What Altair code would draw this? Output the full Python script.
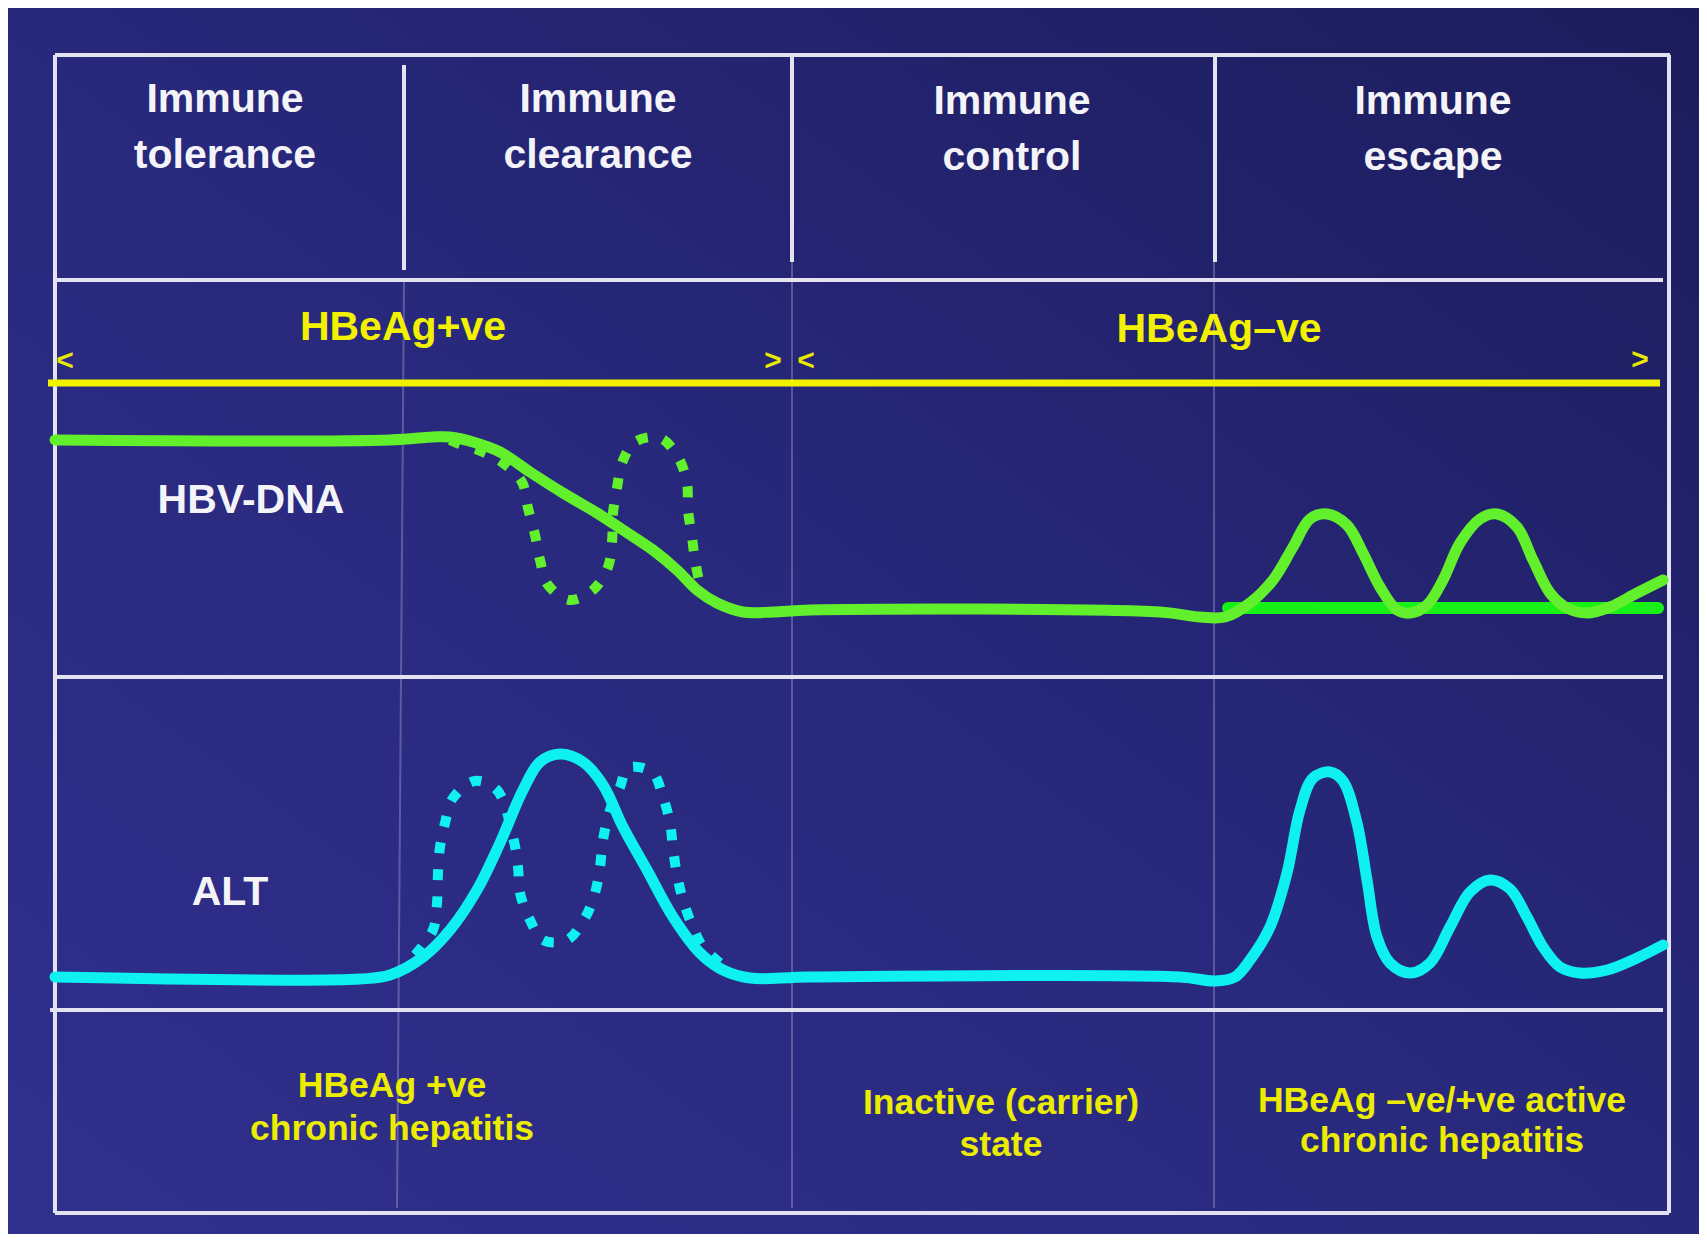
import altair as alt
import pandas as pd

# ---------------- data (image pixel units) ----------------
# HBV-DNA, solid curve
dna_x = [55, 390, 433, 450, 473, 500, 530, 563, 597, 623, 653, 677, 697, 717, 743, 773, 810,
         1160, 1200, 1225, 1250, 1273, 1293, 1310, 1327, 1347, 1363, 1380, 1397, 1410, 1427,
         1443, 1460, 1480, 1497, 1517, 1533, 1550, 1567, 1587, 1610, 1637, 1663]
dna_y = [440, 440, 437, 437, 442, 452, 472, 493, 513, 530, 550, 570, 590, 603, 612, 612, 610,
         612, 617, 617, 603, 580, 547, 519, 514, 525, 553, 587, 610, 613, 605,
         580, 543, 519, 514, 527, 560, 593, 608, 613, 607, 593, 580]

# HBV-DNA, dotted (fluctuating) curve
dnad_x = [450, 457, 483, 503, 522, 528, 535, 540, 548, 570, 593, 608, 612, 613, 617, 622, 635,
          660, 678, 687, 688, 692, 695, 700, 705]
dnad_y = [440, 443, 452, 463, 482, 508, 535, 560, 585, 600, 590, 567, 542, 513, 488, 463, 442,
          438, 457, 483, 510, 537, 560, 583, 592]

# HBV-DNA, flat low line in the escape phase
flat_x = [1228, 1658]
flat_y = [608, 608]

# ALT, solid curve
alt_x = [55, 360, 390, 423, 450, 477, 500, 523, 540, 560, 583, 603, 623, 647, 673, 700, 723, 750,
         810, 1180, 1215, 1235, 1250, 1270, 1287, 1300, 1313, 1330, 1343, 1357, 1367, 1377,
         1390, 1410, 1430, 1450, 1470, 1490, 1510, 1527, 1543, 1560, 1580, 1607, 1637, 1663]
alt_y = [977, 979, 975, 957, 930, 890, 843, 790, 762, 754, 762, 785, 827, 870, 917, 953, 970, 978,
         977, 977, 981, 977, 960, 927, 873, 810, 778, 772, 781, 823, 880, 937,
         963, 973, 963, 927, 892, 880, 889, 917, 947, 967, 973, 970, 958, 945]

# ALT, dotted (fluctuating) curve
altd_x = [415, 433, 437, 438, 440, 445, 453, 475, 497, 513, 518, 520, 530, 543, 567, 585, 595,
          600, 603, 610, 620, 628, 652, 663, 670, 673, 677, 683, 692, 703, 720]
altd_y = [955, 930, 903, 873, 847, 823, 798, 781, 790, 837, 867, 893, 920, 940, 940, 918, 893,
          867, 840, 810, 787, 768, 772, 797, 823, 848, 875, 900, 925, 947, 963]

# diagram frame and dividers: (x, y, x2, y2)
frame_segs = [
    (55, 55, 1670, 55), (55, 55, 55, 1213), (1669, 55, 1669, 1213), (55, 1213, 1669, 1213),
    (55, 280, 1663, 280), (55, 677, 1663, 677), (50, 1010, 1663, 1010),
    (404, 65, 404, 270), (792, 55, 792, 262), (1215, 55, 1215, 262),
]
faint_segs = [(404, 280, 397, 1208), (792, 262, 792, 1208), (1214, 262, 1214, 1208)]
yellow_seg = [(48, 383, 1660, 383)]

# texts
header_x = [225, 225, 598, 598, 1012, 1012, 1433, 1433]
header_y = [100, 156, 100, 156, 102, 158, 102, 158]
header_t = ["Immune", "tolerance", "Immune", "clearance", "Immune", "control", "Immune", "escape"]

state_x = [403, 1219]
state_y = [328, 330]
state_t = ["HBeAg+ve", "HBeAg\u2013ve"]

arrow_x = [65, 773, 806, 1640]
arrow_y = [361, 361, 361, 360]
arrow_t = ["<", ">", "<", ">"]

label_x = [251, 230]
label_y = [501, 893]
label_t = ["HBV-DNA", "ALT"]

phase_x = [392, 392, 1001, 1001, 1442, 1442]
phase_y = [1086, 1129, 1103, 1145, 1101, 1141]
phase_t = ["HBeAg +ve", "chronic hepatitis", "Inactive (carrier)", "state",
           "HBeAg \u2013ve/+ve active", "chronic hepatitis"]

# ---------------- chart ----------------
W, H = 1691, 1226
X_DOM = [8, 8 + W]
Y_DOM = [8, 8 + H]
XS = alt.Scale(domain=X_DOM, nice=False, zero=False)
YS = alt.Scale(domain=Y_DOM, nice=False, zero=False, reverse=True)
FONT = "Liberation Sans"


def curve(xs, ys, color, width, dash=None):
    df = pd.DataFrame({"x": xs, "y": ys, "i": list(range(len(xs)))})
    kw = dict(color=color, strokeWidth=width, interpolate="catmull-rom")
    if dash:
        kw.update(strokeDash=dash, strokeCap="butt")
    else:
        kw.update(strokeCap="round", strokeJoin="round")
    return alt.Chart(df).mark_line(**kw).encode(
        x=alt.X("x:Q", scale=XS, axis=None),
        y=alt.Y("y:Q", scale=YS, axis=None),
        order="i:Q",
    )


def segs(rows, color, width, opacity=1.0):
    df = pd.DataFrame(rows, columns=["x", "y", "x2", "y2"])
    return alt.Chart(df).mark_rule(color=color, strokeWidth=width, opacity=opacity).encode(
        x=alt.X("x:Q", scale=XS, axis=None),
        y=alt.Y("y:Q", scale=YS, axis=None),
        x2="x2:Q",
        y2="y2:Q",
    )


def texts(xs, ys, ts, color, size):
    df = pd.DataFrame({"x": xs, "y": ys, "t": ts})
    return alt.Chart(df).mark_text(
        color=color, fontSize=size, font=FONT, fontWeight="bold",
        align="center", baseline="middle",
    ).encode(
        x=alt.X("x:Q", scale=XS, axis=None),
        y=alt.Y("y:Q", scale=YS, axis=None),
        text="t:N",
    )


bg_grad = alt.LinearGradient(
    gradient="linear", x1=0, y1=1, x2=1, y2=0,
    stops=[
        alt.GradientStop(offset=0, color="#30308e"),
        alt.GradientStop(offset=0.5, color="#28287c"),
        alt.GradientStop(offset=1, color="#1c1c5c"),
    ],
)
bg_df = pd.DataFrame({"x": [X_DOM[0]], "x2": [X_DOM[1]], "y": [Y_DOM[0]], "y2": [Y_DOM[1]]})
background = alt.Chart(bg_df).mark_rect(fill=bg_grad, strokeWidth=0).encode(
    x=alt.X("x:Q", scale=XS, axis=None),
    x2="x2:Q",
    y=alt.Y("y:Q", scale=YS, axis=None),
    y2="y2:Q",
)

layers = [
    background,
    segs(faint_segs, "#b8b8e0", 2, 0.35),
    segs(frame_segs, "#e2e2f0", 4),
    segs(yellow_seg, "#f2f200", 7),
    curve(flat_x, flat_y, "#18f018", 12),
    curve(dnad_x, dnad_y, "#62f02c", 10, [11, 16]),
    curve(dna_x, dna_y, "#62f02c", 11),
    curve(altd_x, altd_y, "#0ff0f0", 10, [11, 16]),
    curve(alt_x, alt_y, "#0ff0f0", 11),
    texts(header_x, header_y, header_t, "#f4f4f8", 41),
    texts(state_x, state_y, state_t, "#f2f200", 41),
    texts(arrow_x, arrow_y, arrow_t, "#e8e800", 30),
    texts(label_x, label_y, label_t, "#f4f4f8", 41),
    texts(phase_x, phase_y, phase_t, "#ecec00", 35.5),
]

chart = alt.layer(*layers).properties(
    width=W, height=H, padding=0,
    autosize=alt.AutoSizeParams(type="fit", contains="padding"),
    background="#262678",
).configure_view(stroke="transparent")

chart.save("out.html", embed_options={"renderer": "svg", "actions": False})
